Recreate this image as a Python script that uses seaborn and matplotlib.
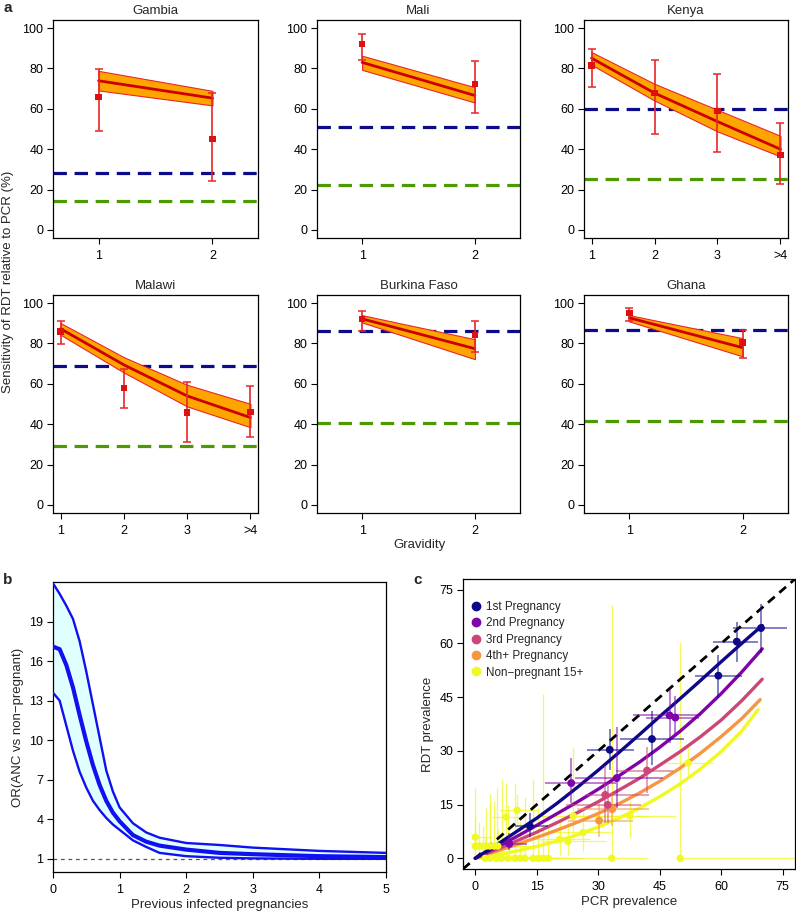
import numpy as np
import pandas as pd
import matplotlib
matplotlib.use("Agg")
import matplotlib.pyplot as plt
import seaborn as sns
from matplotlib.lines import Line2D

sns.set_theme(style="ticks")
plt.rcParams['font.family'] = ['Liberation Sans', 'DejaVu Sans']
plt.rcParams['axes.linewidth'] = 0.9

# ---------------- Panel a data ----------------
countries = ["Gambia", "Mali", "Kenya", "Malawi", "Burkina Faso", "Ghana"]
grav_labels_2 = ["1", "2"]
grav_labels_4 = ["1", "2", "3", ">4"]

obs_mid = [[65.8, 45.1], [92.2, 72.4], [81.5, 67.8, 59.0, 37.0],
           [85.9, 57.9, 45.8, 46.0], [92.2, 84.3], [95.0, 80.5]]
obs_lo = [[49.1, 24.0], [84.3, 58.0], [70.6, 47.4, 38.5, 22.6],
          [79.8, 47.9, 31.1, 33.6], [86.1, 75.7], [91.1, 72.8]]
obs_hi = [[79.7, 67.8], [96.9, 83.8], [89.8, 84.0, 77.4, 52.9],
          [90.9, 67.3, 60.7, 59.0], [96.0, 90.9], [97.5, 86.8]]
fit_mid = [[73.9, 65.3], [83.0, 66.6], [85.1, 67.8, 53.7, 40.0],
           [87.3, 69.4, 54.0, 43.3], [92.2, 77.4], [92.7, 77.9]]
fit_lo = [[69.1, 61.7], [79.3, 63.1], [81.8, 64.1, 48.8, 36.4],
          [84.3, 65.6, 48.8, 38.5], [90.4, 72.2], [90.9, 73.6]]
fit_hi = [[78.8, 68.9], [86.3, 70.7], [88.1, 72.4, 59.5, 46.6],
          [90.1, 73.2, 59.5, 50.1], [94.0, 82.1], [94.0, 82.6]]
ref_blue = [28.1, 50.9, 59.8, 68.9, 86.1, 86.6]
ref_green = [14.2, 22.3, 25.1, 29.1, 40.7, 41.5]

# ---------------- Panel b data ----------------
prev_inf = [0.0, 0.1, 0.2, 0.3, 0.4, 0.5, 0.6, 0.7, 0.8, 0.9, 1.0, 1.2,
            1.4, 1.6, 2.0, 2.5, 3.0, 4.0, 5.0]
or_mid = [17.1, 16.9, 15.7, 14.0, 11.9, 9.9, 8.1, 6.6, 5.4, 4.5, 3.85, 2.8,
          2.3, 2.0, 1.7, 1.45, 1.35, 1.2, 1.13]
or_lo = [13.6, 13.0, 11.1, 9.2, 7.6, 6.4, 5.4, 4.7, 4.1, 3.6, 3.2, 2.4,
         1.9, 1.45, 1.2, 1.08, 1.03, 1.0, 1.0]
or_hi = [21.9, 21.1, 20.2, 19.2, 17.5, 15.2, 12.7, 10.2, 7.7, 6.1, 4.9, 3.7,
         3.0, 2.6, 2.2, 2.05, 1.85, 1.6, 1.45]

# ---------------- Panel c data ----------------
group_names = ["1st Pregnancy", "2nd Pregnancy", "3rd Pregnancy",
               "4th+ Pregnancy", "Non\u2212pregnant 15+"]
pcr_grid = [0, 5, 10, 15, 20, 25, 30, 35, 40, 45, 50, 55, 60, 65, 70]
rdt_g1 = [0, 3.6, 7.4, 11.2, 15.4, 19.9, 24.6, 29.5, 34.5, 39.6, 44.6, 49.7, 54.9, 60.0, 65.0]
rdt_g2 = [0, 3.0, 6.0, 9.2, 12.5, 15.8, 19.3, 23.0, 26.8, 31.0, 35.5, 40.5, 46.0, 52.0, 58.5]
rdt_g3 = [0, 2.4, 4.8, 7.3, 10.0, 12.8, 15.8, 19.0, 22.3, 26.0, 29.8, 34.0, 38.6, 44.0, 50.0]
pcr_grid_b = [0, 5, 10, 15, 20, 25, 30, 35, 40, 45, 50, 55, 60, 65, 69.5]
rdt_g4 = [0, 1.9, 3.8, 5.8, 7.9, 10.1, 12.5, 15.2, 18.2, 21.5, 25.2, 29.4, 34.0, 39.0, 44.3]
pcr_grid_c = [0, 5, 10, 15, 20, 25, 30, 35, 40, 45, 50, 55, 60, 65, 69]
rdt_np = [0, 0.9, 2.0, 3.3, 4.8, 6.6, 8.7, 11.2, 14.0, 17.2, 20.8, 25.0, 29.8, 35.5, 41.5]

g1_x = [13.3, 32.8, 43.1, 59.3, 63.8, 69.7]
g1_y = [9.0, 30.3, 33.3, 51.0, 60.5, 64.3]
g1_xlo = [9.7, 27.3, 35.2, 53.5, 58.0, 62.8]
g1_xhi = [17.8, 38.7, 50.9, 65.0, 68.9, 76.1]
g1_ylo = [6.0, 24.7, 26.1, 44.8, 54.9, 57.4]
g1_yhi = [12.6, 36.2, 41.0, 56.8, 66.0, 70.9]

g2_x = [8.3, 23.4, 34.5, 47.4, 48.8]
g2_y = [4.0, 21.0, 22.4, 39.9, 39.3]
g2_xlo = [5.2, 17.1, 24.3, 38.5, 41.7]
g2_xhi = [12.5, 34.4, 45.8, 55.0, 54.7]
g2_ylo = [2.3, 15.4, 14.0, 32.2, 34.0]
g2_yhi = [7.0, 28.0, 36.8, 47.1, 45.2]

g3_x = [31.7, 32.3, 41.9]
g3_y = [17.7, 14.9, 24.5]
g3_xlo = [26.7, 22.2, 34.4]
g3_xhi = [42.5, 40.5, 48.2]
g3_ylo = [9.8, 9.8, 18.2]
g3_yhi = [25.7, 21.0, 31.2]

g4_x = [30.2, 33.4]
g4_y = [10.5, 13.7]
g4_xlo = [22.6, 24.7]
g4_xhi = [38.5, 42.5]
g4_ylo = [6.0, 8.9]
g4_yhi = [15.4, 18.2]

np_x = [0.0, 0.0, 0.9, 1.8, 2.7, 3.6, 4.6, 5.5, 2.4, 3.6, 5.2, 6.4, 8.0, 9.7, 10.9,
        12.1, 14.1, 15.4, 16.6, 17.8, 7.5, 10.2, 20.6, 22.6, 23.9, 26.3, 33.3, 37.7, 50.0, 51.9]
np_y = [5.9, 3.4, 3.4, 3.4, 3.4, 3.4, 3.4, 3.4, 0, 0, 0, 0, 0, 0, 0,
        0, 0, 0, 0, 0, 11.5, 13.4, 5.3, 4.7, 11.8, 7.2, 0, 11.8, 0, 26.6]
np_xlo = [0, 0, 0, 0, 0.5, 1, 1.5, 2, 0.5, 1, 2, 3, 4, 5, 6,
          7, 8, 9, 10, 11, 4, 6, 14, 16, 15.7, 18, 25, 22.2, 50, 46.6]
np_xhi = [4, 6, 8, 10, 12, 14, 9, 15, 8, 10, 12, 14, 16, 18, 19,
          20, 22, 24, 25, 26, 12, 15, 28, 32, 42.5, 33, 42, 49, 80, 58]
np_ylo = [1, 0, 0, 0, 0, 0, 0, 0, 0, 0, 0, 0, 0, 0, 0,
          0, 0, 0, 0, 0, 6, 9, 1, 1, 5, 2, 0, 6, 0, 22.8]
np_yhi = [19.5, 12, 10, 9, 14, 18, 16, 8, 6, 15, 20, 22, 15, 21, 10,
          17, 22, 14, 46, 9, 21, 18, 11, 10, 31, 13, 70.8, 16, 60.3, 31.2]

# ---------------- Figure ----------------
W, H = 796, 914
fig = plt.figure(figsize=(W / 100, H / 100), dpi=100)


def add_ax(x0, x1, y0, y1):
    return fig.add_axes([x0 / W, 1 - y1 / H, (x1 - x0) / W, (y1 - y0) / H])


def style(ax, fs=9):
    for s in ax.spines.values():
        s.set_visible(True)
        s.set_color("black")
        s.set_linewidth(0.9)
    ax.tick_params(direction="out", length=4.5, width=0.8, labelsize=fs,
                   colors="black", pad=2.5)
    ax.grid(False)
    ax.set_facecolor("white")


col_x = [(53, 258), (317, 520), (584, 788)]
row_y = [(20, 238), (295, 513)]
FIT_RED = "#CC0000"
ERR_RED = "#E8262A"

for i, name in enumerate(countries):
    r, c = divmod(i, 3)
    ax = add_ax(col_x[c][0], col_x[c][1], row_y[r][0], row_y[r][1])
    n = len(obs_mid[i])
    grav = list(range(1, n + 1))
    labels = grav_labels_2 if n == 2 else grav_labels_4
    df_fit = pd.DataFrame({"g": grav, "mid": fit_mid[i], "lo": fit_lo[i], "hi": fit_hi[i]})
    df_obs = pd.DataFrame({"g": grav, "mid": obs_mid[i], "lo": obs_lo[i], "hi": obs_hi[i]})

    ax.axhline(ref_blue[i], color="#0B0B8C", lw=2.3, ls=(0, (4.2, 2.4)), zorder=1)
    ax.axhline(ref_green[i], color="#4C9A00", lw=2.3, ls=(0, (4.2, 2.4)), zorder=1)
    ax.fill_between(df_fit["g"], df_fit["lo"], df_fit["hi"], facecolor="#FFA500",
                    edgecolor="#E8262A", lw=0.8, zorder=2)
    sns.lineplot(data=df_fit, x="g", y="mid", ax=ax, color=FIT_RED, lw=2.0, zorder=3)
    ax.errorbar(df_obs["g"], df_obs["mid"],
                yerr=[df_obs["mid"] - df_obs["lo"], df_obs["hi"] - df_obs["mid"]],
                fmt="none", ecolor=ERR_RED, elinewidth=1.2, capsize=3.2, capthick=1.1, zorder=4)
    sns.scatterplot(data=df_obs, x="g", y="mid", ax=ax, marker="s", color="#DD1111",
                    s=22, edgecolor="none", zorder=5)

    if n == 2:
        ax.set_xlim(0.6, 2.4)
    else:
        ax.set_xlim(0.88, 4.12)
    ax.set_ylim(-4, 104)
    ax.set_xticks(grav)
    ax.set_xticklabels(labels)
    ax.set_yticks([0, 20, 40, 60, 80, 100])
    ax.set_xlabel("")
    ax.set_ylabel("")
    style(ax)
    ax.tick_params(axis="x", pad=4)
    ax.set_title(name, fontsize=9.5, pad=4)

fig.text(8 / W, 1 - 282 / H, "Sensitivity of RDT relative to PCR (%)", rotation=90,
         ha="center", va="center", fontsize=9.5)
fig.text(420 / W, 1 - 545 / H, "Gravidity", ha="center", va="center", fontsize=9.5)
fig.text(3 / W, 1 - 8 / H, "a", ha="left", va="center", fontsize=11, fontweight="bold")
fig.text(3 / W, 1 - 580 / H, "b", ha="left", va="center", fontsize=11, fontweight="bold")
fig.text(413 / W, 1 - 580 / H, "c", ha="left", va="center", fontsize=11, fontweight="bold")

# ---------------- Panel b ----------------
axb = add_ax(53, 386, 582, 872)
df_b = pd.DataFrame({"x": prev_inf, "mid": or_mid, "lo": or_lo, "hi": or_hi})
axb.fill_between(df_b["x"], df_b["lo"], df_b["hi"], color="#E0FFFF", lw=0, zorder=1)
axb.axhline(1, color="#555555", lw=0.9, ls=(0, (3, 3)), zorder=2)
sns.lineplot(data=df_b, x="x", y="lo", ax=axb, color="#1010F0", lw=1.7, zorder=3)
sns.lineplot(data=df_b, x="x", y="hi", ax=axb, color="#1010F0", lw=1.7, zorder=3)
sns.lineplot(data=df_b, x="x", y="mid", ax=axb, color="#1010F0", lw=3.0, zorder=4)
axb.set_xlim(0, 5)
axb.set_ylim(0, 22)
axb.set_xticks([0, 1, 2, 3, 4, 5])
axb.set_yticks([1, 4, 7, 10, 13, 16, 19])
axb.set_xlabel("Previous infected pregnancies", fontsize=9.5, labelpad=2)
axb.set_ylabel("OR(ANC vs non\u2212pregnant)", fontsize=9.5, labelpad=4)
style(axb)
axb.tick_params(axis="x", pad=4)

# ---------------- Panel c ----------------
axc = add_ax(463, 795, 579, 869)
plasma = sns.color_palette("plasma", as_cmap=True)
gcols = [plasma(0.0), plasma(0.25), plasma(0.5), plasma(0.75), plasma(1.0)]

axc.axline((0, 0), slope=1, color="black", lw=2.0, ls=(0, (3.2, 2.2)), zorder=2)

# non-pregnant error bars first
axc.errorbar(np_x, np_y,
             xerr=[np.array(np_x) - np.array(np_xlo), np.array(np_xhi) - np.array(np_x)],
             yerr=[np.array(np_y) - np.array(np_ylo), np.array(np_yhi) - np.array(np_y)],
             fmt="none", ecolor=gcols[4], elinewidth=0.9, alpha=0.75, zorder=1)

curves = [(pcr_grid, rdt_g1), (pcr_grid, rdt_g2), (pcr_grid, rdt_g3),
          (pcr_grid_b, rdt_g4), (pcr_grid_c, rdt_np)]
for k in range(4, -1, -1):
    xs, ys = curves[k]
    sns.lineplot(x=xs, y=ys, ax=axc, color=gcols[k], lw=2.4, zorder=3)

groups = [(g1_x, g1_y, g1_xlo, g1_xhi, g1_ylo, g1_yhi),
          (g2_x, g2_y, g2_xlo, g2_xhi, g2_ylo, g2_yhi),
          (g3_x, g3_y, g3_xlo, g3_xhi, g3_ylo, g3_yhi),
          (g4_x, g4_y, g4_xlo, g4_xhi, g4_ylo, g4_yhi)]
for k in range(3, -1, -1):
    gx, gy, gxl, gxh, gyl, gyh = [np.array(a) for a in groups[k]]
    axc.errorbar(gx, gy, xerr=[gx - gxl, gxh - gx], yerr=[gy - gyl, gyh - gy],
                 fmt="none", ecolor=gcols[k], elinewidth=1.1, alpha=0.65, zorder=4)
sns.scatterplot(x=np_x, y=np_y, ax=axc, color=gcols[4], s=28, edgecolor="none", zorder=5)
for k in range(3, -1, -1):
    gx, gy = groups[k][0], groups[k][1]
    sns.scatterplot(x=gx, y=gy, ax=axc, color=gcols[k], s=32, edgecolor="none", zorder=6)

handles = [Line2D([0], [0], marker="o", ls="none", color=gcols[k], markersize=6)
           for k in range(5)]
axc.legend(handles, group_names, loc="upper left", bbox_to_anchor=(0.0, 0.953),
           frameon=False, fontsize=8.4, handlelength=0.8, handletextpad=0.5,
           labelspacing=0.38, borderaxespad=0.3)
axc.set_xlim(-3, 78)
axc.set_ylim(-3, 78)
axc.set_xticks([0, 15, 30, 45, 60, 75])
axc.set_yticks([0, 15, 30, 45, 60, 75])
axc.set_xlabel("PCR prevalence", fontsize=9.5, labelpad=2)
axc.set_ylabel("RDT prevalence", fontsize=9.5, labelpad=4)
style(axc)
axc.tick_params(axis="x", pad=4)

fig.savefig("out.png", dpi=100, facecolor="white")
